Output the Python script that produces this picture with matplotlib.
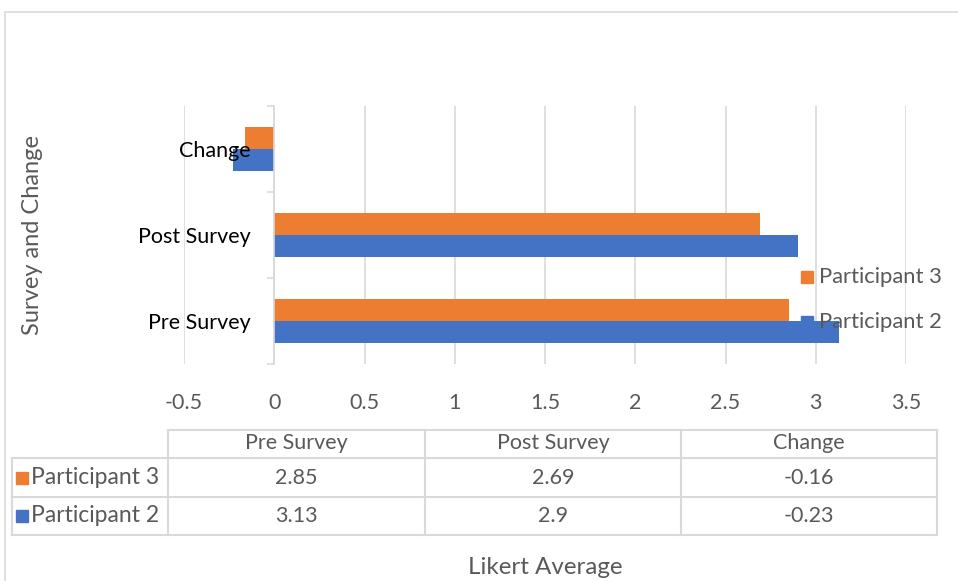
import matplotlib
matplotlib.use("Agg")
import matplotlib.pyplot as plt
from matplotlib.patches import Rectangle
from matplotlib.lines import Line2D

# survey results per participant
categories = ["Pre Survey", "Post Survey", "Change"]
participants = ["Participant 3", "Participant 2"]
participant3 = [2.85, 2.69, -0.16]
participant2 = [3.13, 2.9, -0.23]
xticks = [-0.5, 0, 0.5, 1, 1.5, 2, 2.5, 3, 3.5]
xtick_labels = ["-0.5", "0", "0.5", "1", "1.5", "2", "2.5", "3", "3.5"]

ORANGE = "#ED7D31"
BLUE = "#4472C4"
GRID = "#D9D9D9"
TXT = "#595959"

plt.rcParams["font.family"] = ["Lato", "DejaVu Sans"]

W, H = 958, 581
fig = plt.figure(figsize=(W / 100, H / 100), dpi=100)


def fx(x):
    return x / W


def fy(y):
    return 1 - y / H


# outer chart border
fig.add_artist(Rectangle((fx(5), fy(600)), fx(1000), fy(12) - fy(600), transform=fig.transFigure,
                         fill=False, edgecolor=GRID, lw=1.2))

ax = fig.add_axes([fx(184), fy(364), fx(906) - fx(184), fy(106) - fy(364)])
ypos = list(range(len(categories)))
bh = 0.26
ax.barh([y + bh / 2 for y in ypos], participant3, height=bh, color=ORANGE, zorder=3)
ax.barh([y - bh / 2 for y in ypos], participant2, height=bh, color=BLUE, zorder=3)

ax.set_xlim(-0.5, 3.5)
ax.set_ylim(-0.5, 2.5)
ax.set_xticks(xticks)
ax.set_xticklabels(xtick_labels)
ax.tick_params(axis="x", length=0, pad=21, labelsize=15.5, labelcolor=TXT)
ax.grid(axis="x", color=GRID, lw=1.2, zorder=0)

for s in ["top", "right", "bottom"]:
    ax.spines[s].set_visible(False)
ax.spines["left"].set_position(("data", 0))
ax.spines["left"].set_color(GRID)
ax.spines["left"].set_linewidth(1.2)
ax.spines["left"].set_zorder(4)

ax.set_yticks(ypos)
ax.set_yticklabels(categories)
ax.set_yticks([-0.5, 0.5, 1.5, 2.5], minor=True)
ax.tick_params(axis="y", which="major", length=0, pad=17, labelsize=15.5, labelcolor="black")
ax.tick_params(axis="y", which="minor", length=5, color=GRID, width=1.2)
# category names sit on top of the negative bars
ax.yaxis.set_zorder(5)

# legend
for i, (name, col) in enumerate(zip(participants, [ORANGE, BLUE])):
    yc = 277 + i * 45
    fig.add_artist(Rectangle((fx(801), fy(yc + 6)), fx(12), fy(yc - 6) - fy(yc + 6),
                             transform=fig.transFigure, color=col, zorder=6))
    fig.text(fx(819), fy(yc), name, fontsize=15.8, color=TXT, va="center", ha="left", zorder=7)

fig.text(fx(33), fy(235), "Survey and Change", rotation=90, fontsize=17, color=TXT,
         va="center", ha="center")

# data table
cols = [168, 425, 681, 937]
rows = [430, 458, 497, 535]
tbl = dict(transform=fig.transFigure, color=GRID, lw=1.5)
fig.add_artist(Line2D([fx(168), fx(937)], [fy(430), fy(430)], **tbl))
for r in rows[1:]:
    fig.add_artist(Line2D([fx(12), fx(937)], [fy(r), fy(r)], **tbl))
fig.add_artist(Line2D([fx(12), fx(12)], [fy(458), fy(535)], **tbl))
for c in cols:
    fig.add_artist(Line2D([fx(c), fx(c)], [fy(430), fy(535)], **tbl))

for j, cat in enumerate(categories):
    xc = (cols[j] + cols[j + 1]) / 2
    fig.text(fx(xc), fy(443), cat, fontsize=15.5, color=TXT, ha="center", va="center")
    for i, vals in enumerate([participant3, participant2]):
        yc = (rows[i + 1] + rows[i + 2]) / 2
        fig.text(fx(xc), fy(yc), f"{vals[j]:g}", fontsize=15.5, color=TXT, ha="center", va="center")

for i, (name, col) in enumerate(zip(participants, [ORANGE, BLUE])):
    yc = (rows[i + 1] + rows[i + 2]) / 2
    fig.add_artist(Rectangle((fx(16), fy(yc + 6)), fx(12), fy(yc - 6) - fy(yc + 6),
                             transform=fig.transFigure, color=col))
    fig.text(fx(31), fy(yc), name, fontsize=16.5, color=TXT, ha="left", va="center")

fig.text(fx(545), fy(568), "Likert Average", fontsize=17.4, color=TXT, ha="center", va="center")

fig.savefig("out.png", dpi=100, facecolor="white")
